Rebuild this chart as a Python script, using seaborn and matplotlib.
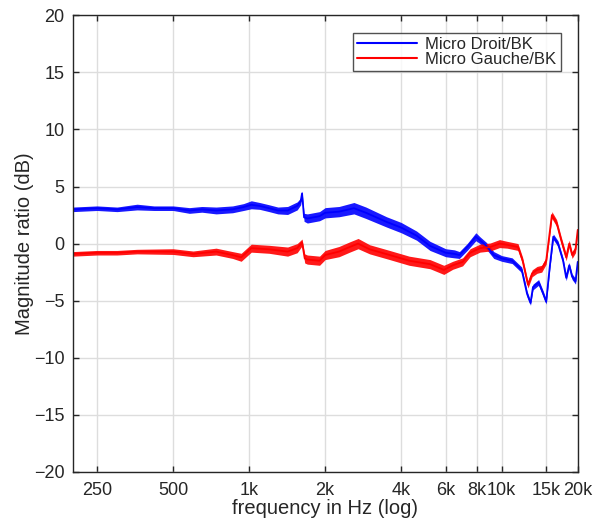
"""Magnitude ratio of the two micros against the BK reference."""

import matplotlib

matplotlib.use("Agg")
import matplotlib.pyplot as plt
import numpy as np
import pandas as pd
import seaborn as sns
from matplotlib.ticker import FixedLocator, NullLocator

# values
freq_droit = [200, 250, 300, 360, 420, 500, 580, 650, 740, 860, 950, 1020, 1100, 1200,
              1300, 1420, 1550, 1600, 1620, 1650, 1700, 1900, 2000, 2270, 2600, 2900,
              3500, 4000, 4600, 5200, 6000, 6500, 6800, 7300, 7900, 8200, 8700, 9300,
              10000, 11000, 12000, 12600, 13000, 13300, 14000, 14600, 15000, 15500,
              16000, 16700, 17500, 18000, 18500, 19000, 19600, 20000]
mag_droit = [3.0, 3.1, 3.0, 3.2, 3.1, 3.1, 2.9, 3.0, 2.9, 3.0, 3.2, 3.4, 3.3, 3.1,
             2.9, 2.9, 3.3, 3.7, 4.4, 2.3, 2.2, 2.4, 2.7, 2.8, 3.1, 2.7,
             1.9, 1.4, 0.7, -0.2, -0.8, -0.9, -1.0, -0.3, 0.6, 0.3, -0.2, -1.0,
             -1.3, -1.5, -2.3, -4.4, -5.2, -3.8, -3.4, -4.4, -5.1, -2.0,
             0.6, 0.0, -1.5, -3.0, -1.9, -2.9, -3.3, -1.6]
spread_droit = [0.2, 0.2, 0.2, 0.25, 0.2, 0.2, 0.25, 0.25, 0.3, 0.3, 0.3, 0.35, 0.3, 0.3,
                0.3, 0.35, 0.35, 0.3, 0.2, 0.35, 0.4, 0.4, 0.45, 0.45, 0.5, 0.5,
                0.45, 0.45, 0.4, 0.4, 0.35, 0.35, 0.3, 0.3, 0.35, 0.3, 0.3, 0.3,
                0.25, 0.25, 0.25, 0.25, 0.2, 0.25, 0.25, 0.25, 0.2, 0.25,
                0.25, 0.25, 0.25, 0.25, 0.25, 0.25, 0.25, 0.2]

freq_gauche = [200, 250, 300, 360, 500, 600, 740, 860, 930, 1020, 1200, 1420, 1550,
               1620, 1660, 1700, 1900, 2000, 2270, 2500, 2700, 3000, 3600, 4300, 5200,
               5900, 6400, 7000, 7500, 8200, 9000, 9800, 10500, 11600, 12100, 12700,
               13200, 13800, 14400, 15000, 15800, 16500, 17200, 18000, 18500, 19000,
               19600, 20000]
mag_gauche = [-0.9, -0.8, -0.8, -0.7, -0.7, -0.9, -0.7, -1.0, -1.2, -0.4, -0.5, -0.7, -0.4,
              0.1, -1.3, -1.4, -1.5, -1.0, -0.7, -0.3, 0.0, -0.5, -1.0, -1.5, -1.8,
              -2.3, -1.9, -1.6, -0.8, -0.4, -0.3, 0.0, -0.1, -0.3, -1.5, -3.6,
              -2.6, -2.3, -2.2, -1.5, 2.5, 1.8, 0.3, -1.2, 0.0, -1.0,
              -0.5, 1.2]
spread_gauche = [0.2, 0.2, 0.2, 0.2, 0.25, 0.25, 0.3, 0.3, 0.35, 0.35, 0.35, 0.4, 0.4,
                 0.3, 0.4, 0.4, 0.4, 0.4, 0.45, 0.45, 0.45, 0.4, 0.4, 0.4, 0.4,
                 0.4, 0.35, 0.35, 0.35, 0.35, 0.35, 0.35, 0.3, 0.3, 0.3, 0.3,
                 0.3, 0.3, 0.3, 0.3, 0.3, 0.3, 0.3, 0.3, 0.3, 0.3,
                 0.3, 0.3]

tick_freqs = [250, 500, 1000, 2000, 4000, 6000, 8000, 10000, 15000, 20000]
tick_labels = ["250", "500", "1k", "2k", "4k", "6k", "8k", "10k", "15k", "20k"]

sns.set_style("ticks")
plt.rcParams["font.family"] = ["Liberation Sans", "DejaVu Sans"]

df = pd.concat([
    pd.DataFrame({"freq": freq_droit, "mag": mag_droit, "spread": spread_droit,
                  "serie": "Micro Droit/BK"}),
    pd.DataFrame({"freq": freq_gauche, "mag": mag_gauche, "spread": spread_gauche,
                  "serie": "Micro Gauche/BK"}),
])
palette = {"Micro Droit/BK": "#0000ff", "Micro Gauche/BK": "#ff0000"}

fig = plt.figure(figsize=(5.95, 5.25), dpi=100)
ax = fig.add_axes([0.122, 0.101, 0.849, 0.870])

for name, sub in df.groupby("serie"):
    f = sub["freq"].to_numpy()
    m = sub["mag"].to_numpy()
    s = sub["spread"].to_numpy()
    ax.fill_between(f, m - s, m + s, color=palette[name], lw=0, alpha=0.9)

sns.lineplot(data=df, x="freq", y="mag", hue="serie", palette=palette,
             linewidth=1.3, ax=ax, sort=False, estimator=None)

ax.set_xscale("log")
ax.set_xlim(200, 20000)
ax.set_ylim(-20, 20)
ax.xaxis.set_major_locator(FixedLocator(tick_freqs))
ax.xaxis.set_minor_locator(NullLocator())
ax.set_xticklabels(tick_labels)
ax.set_yticks(np.arange(-20, 21, 5))
ax.grid(True, color="#dddddd", linewidth=1.0)
ax.set_axisbelow(True)

for sp in ax.spines.values():
    sp.set_visible(True)
    sp.set_color("#262626")
    sp.set_linewidth(1.0)
ax.tick_params(direction="in", length=4, width=1, top=True, right=True,
               labelsize=13, colors="#262626")
ax.tick_params(axis="x", pad=7)
ax.tick_params(axis="y", pad=6)

ax.set_xlabel("frequency in Hz (log)", fontsize=14.5, color="#262626", labelpad=0)
ax.set_ylabel("Magnitude ratio (dB)", fontsize=14.5, color="#262626", labelpad=0)

leg = ax.legend(loc="upper right", bbox_to_anchor=(0.966, 0.962), borderaxespad=0,
                frameon=True, fancybox=False, fontsize=12, handlelength=3.6,
                labelspacing=0.0, borderpad=0.25, handletextpad=0.5, title=None)
leg.get_frame().set_edgecolor("#262626")
leg.get_frame().set_linewidth(1.0)
for line in leg.get_lines():
    line.set_linewidth(1.5)

fig.savefig("out.png", dpi=100)
